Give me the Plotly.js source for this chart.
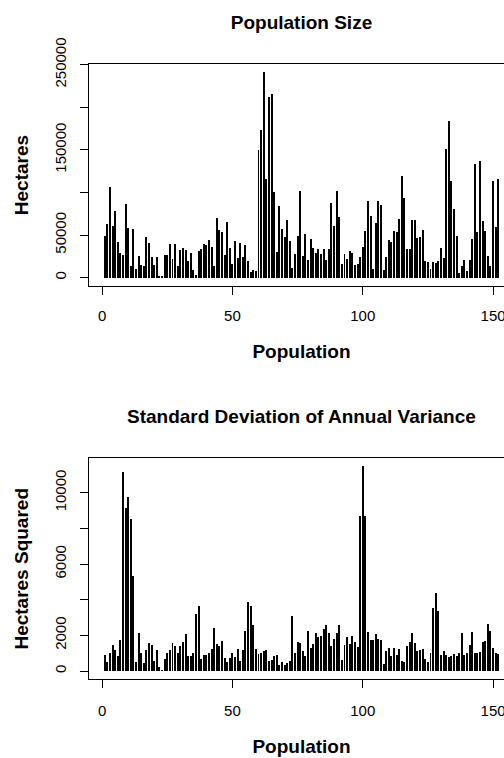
<!DOCTYPE html>
<html>
<head>
<meta charset="utf-8">
<script src="https://cdn.plot.ly/plotly-3.0.1.min.js"></script>
<style>
html,body{margin:0;padding:0;overflow:hidden;background:#fff;}
#chart{width:560px;height:758px;}
</style>
</head>
<body>
<div id="chart"></div>
<script>
// Population size (hectares), populations 1..152
const hectares = [
48800,62800,106200,60500,77900,41500,29500,27100,86000,58100,
13600,57400,10500,26000,14700,14000,47700,40300,24000,15100,
24000,2300,1500,27100,27100,39500,21700,39500,13600,32200,
35300,32600,19800,29500,9300,3500,31000,33300,39500,38800,
43800,35700,14000,69800,55800,53500,27100,65900,34500,16300,
43000,22900,40700,24400,38400,19800,6600,8900,7800,149400,
172900,241000,115800,212400,215500,101000,30600,84000,57000,48100,
68000,43000,11200,28300,48500,101800,26000,51600,20900,45000,
34500,29500,34100,28300,34100,20500,33700,87600,60900,102000,
70800,15900,28300,21700,31800,29500,14700,16300,24800,36400,
54300,89800,73000,10100,64300,89500,84800,8500,24400,44200,
41900,54300,53100,68600,119700,93800,33300,33700,68200,68200,
46100,47700,55800,19800,19000,10500,18600,17400,19400,34500,
23300,150600,183900,113500,80900,49200,5800,13200,20500,8100,
20900,45000,133800,53100,136500,66700,54700,25600,14000,113500,
59700,115400
];
// Standard deviation of annual variance (hectares squared)
const sdVariance = [
900,490,1030,1470,1170,860,1720,11150,9130,9740,
8510,5330,490,2130,1040,460,1210,1580,1470,590,
1190,220,90,660,1040,1170,1580,1390,1040,1410,
1630,2070,820,840,1010,3220,3650,680,880,880,
990,1250,2420,1500,1430,1700,710,490,730,1030,
790,1250,590,1210,2240,3870,3660,2560,1260,950,
990,1120,1210,550,640,820,930,330,510,330,
480,550,3080,1040,1630,1580,1140,860,2240,1320,
1540,2110,1890,1940,2380,2580,2160,1390,1800,2140,
2580,620,1450,1920,1520,1960,1610,1370,8680,11470,
8680,2220,1760,1760,2070,1800,1720,420,1140,1320,
820,1320,910,1250,550,530,1410,1650,2110,1580,
1140,1210,1250,680,510,990,3540,4400,3350,880,
1140,900,770,840,970,820,1030,2130,910,990,
1480,2200,1040,990,1060,1610,1670,2660,2270,1320,
1040,950
];
const xTicks = [0, 50, 100, 150];
const yTicksTop = [0, 50000, 100000, 150000, 200000, 250000];
const yTextTop = ['0', '50000', '', '150000', '', '250000'];
const yTicksBot = [0, 2000, 4000, 6000, 8000, 10000];
const yTextBot = ['0', '2000', '', '6000', '', '10000'];
const titles = ['Population Size', 'Standard Deviation of Annual Variance'];

const popIndex = hectares.map((_, i) => i + 1);
const n = popIndex.length;
const xr = [1 - 0.04 * (n - 1), n + 0.04 * (n - 1)];
function yr(arr){ const m = Math.max(...arr); return [-0.04 * m, 1.04 * m]; }

const FONT = '"Liberation Sans", Arial, Helvetica, sans-serif';

const traces = [
  {type:'bar', x: popIndex, y: hectares, xaxis:'x', yaxis:'y',
   width:0.75, marker:{color:'#000', line:{width:0}}, hoverinfo:'x+y'},
  {type:'bar', x: popIndex, y: sdVariance, xaxis:'x2', yaxis:'y2',
   width:0.75, marker:{color:'#000', line:{width:0}}, hoverinfo:'x+y'}
];

function xAxis(anchor, so){
  return {anchor: anchor, domain:[0,1], range: xr, showgrid:false, zeroline:false,
    showline:true, mirror:true, linecolor:'#000', linewidth:1,
    ticks:'outside', ticklen:8, tickwidth:1, tickcolor:'#000',
    tickvals: xTicks, ticktext: xTicks.map(String), ticklabelstandoff: so,
    tickfont:{family:FONT, size:15, color:'#000'},
    title:{text:'Population', font:{family:FONT, size:19, color:'#000', weight:'bold'}, standoff: 21}};
}
function yAxis(anchor, dom, arr, tv, tt, ttl){
  return {anchor: anchor, domain: dom, range: yr(arr), showgrid:false, zeroline:false,
    showline:true, mirror:true, linecolor:'#000', linewidth:1,
    ticks:'outside', ticklen:8, tickwidth:1, tickcolor:'#000',
    tickvals: tv, ticktext: tt, tickangle:-90, ticklabelstandoff: 8,
    tickfont:{family:FONT, size:15, color:'#000'},
    title:{text: ttl, font:{family:FONT, size:19, color:'#000', weight:'bold'}, standoff: 18}};
}

const layout = {
  width:560, height:758, autosize:false,
  paper_bgcolor:'#fff', plot_bgcolor:'#fff',
  margin:{l:89, r:46, t:0, b:0},
  showlegend:false, bargap:0,
  font:{family:FONT, color:'#000'},
  title:{text: titles[0], x:0.5, xref:'paper', xanchor:'center', y: 1 - 22/758, yanchor:'middle',
    font:{family:FONT, size:19, color:'#000', weight:'bold'}},
  xaxis: xAxis('y', 8),
  xaxis2: xAxis('y2', 10),
  yaxis: yAxis('x', [1 - 285.9/758, 1 - 64.2/758], hectares, yTicksTop, yTextTop, 'Hectares'),
  yaxis2: yAxis('x2', [1 - 679.3/758, 1 - 458.3/758], sdVariance, yTicksBot, yTextBot, 'Hectares Squared'),
  annotations:[
    {text: '<b>' + titles[1] + '</b>', xref:'paper', yref:'paper', x:0.5, y: 1 - 416/758,
     xanchor:'center', yanchor:'middle', showarrow:false,
     font:{family:FONT, size:19, color:'#000'}}
  ]
};

Plotly.newPlot('chart', traces, layout, {staticPlot:true, displayModeBar:false});
</script>
</body>
</html>
